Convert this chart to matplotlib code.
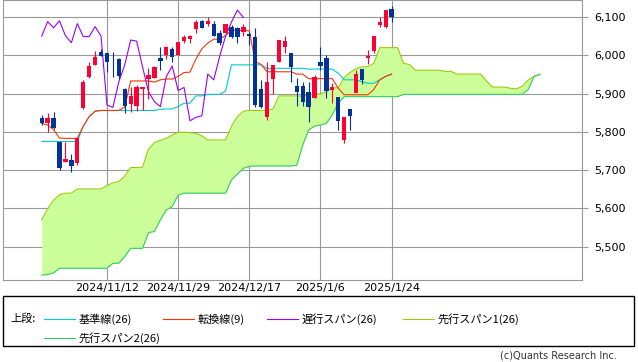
"""Ichimoku chart (一目均衡表) for the last 60 sessions, rendered to out.png."""

import matplotlib

matplotlib.use("Agg")
import matplotlib.pyplot as plt
from matplotlib.lines import Line2D
from matplotlib.patches import Rectangle
import numpy as np

plt.rcParams["font.family"] = ["DejaVu Sans"]
JP_FONT = ["Noto Sans CJK JP", "DejaVu Sans"]

# daily OHLC, oldest first (60 sessions, last one is 2025/1/24)
opens = [5835, 5822, 5835, 5774, 5722, 5727, 5720, 5863, 5944, 5975,
         6009, 6005, 5986, 5990, 5912, 5873, 5867, 5913, 5938, 5942,
         5993, 6000, 6016, 6002, 6038, 6042, 6068, 6090, 6082, 6081,
         6059, 6057, 6075, 6070, 6062, 6056, 6049, 5911, 5838, 5938,
         5982, 6022, 6007, 5920, 5920, 5905, 5888, 5983, 5992, 5909,
         5890, 5779, 5860, 5902, 5964, 5993, 6012, 6080, 6075, 6120]
highs = [5845, 5849, 5851, 5776, 5774, 5742, 5786, 5935, 5983, 6012,
         6016, 6007, 6009, 5993, 5915, 5916, 5922, 5918, 5966, 5973,
         6022, 6025, 6022, 6036, 6054, 6054, 6092, 6092, 6101, 6090,
         6066, 6083, 6078, 6075, 6083, 6060, 6070, 5936, 5982, 5975,
         6040, 6051, 6007, 5942, 5931, 5931, 5948, 6022, 6001, 5928,
         5890, 5840, 5860, 5962, 5964, 6014, 6050, 6099, 6118, 6129]
lows = [5818, 5800, 5808, 5700, 5722, 5696, 5714, 5861, 5942, 5974,
        5997, 5957, 5944, 5939, 5850, 5853, 5855, 5857, 5887, 5942,
        5962, 5990, 5983, 6002, 6031, 6031, 6057, 6070, 6077, 6050,
        6028, 6057, 6046, 6033, 6050, 6027, 5866, 5862, 5831, 5899,
        5982, 6005, 5931, 5868, 5868, 5827, 5888, 5962, 5889, 5875,
        5805, 5772, 5805, 5925, 5925, 5977, 6005, 6075, 6072, 6088]
closes = [5822, 5835, 5811, 5705, 5729, 5712, 5783, 5931, 5972, 5996,
          5998, 5983, 5984, 5946, 5867, 5894, 5916, 5918, 5949, 5970,
          5985, 6022, 5996, 6036, 6047, 6050, 6088, 6072, 6090, 6051,
          6033, 6083, 6049, 6049, 6075, 6050, 5870, 5864, 5931, 5975,
          6040, 6037, 5970, 5905, 5879, 5866, 5944, 5972, 5908, 5916,
          5829, 5838, 5842, 5951, 5936, 5997, 6050, 6087, 6118, 6099]

# 転換線 (9) and 基準線 (26), one value per session
tenkan = [5822, 5818, 5806, 5784, 5783, 5783, 5783, 5815, 5840, 5854,
          5856, 5856, 5856, 5856, 5865, 5933, 5933, 5933, 5933, 5930,
          5936, 5938, 5938, 5945, 5955, 5956, 5990, 6017, 6032, 6042,
          6042, 6052, 6065, 6065, 6065, 6064, 5984, 5976, 5957, 5957,
          5957, 5957, 5957, 5951, 5951, 5939, 5939, 5939, 5939, 5939,
          5914, 5897, 5897, 5897, 5897, 5897, 5911, 5936, 5945, 5951]
kijun = [5775, 5775, 5775, 5775, 5775, 5775, 5775, 5815, 5840, 5854,
         5856, 5856, 5856, 5856, 5856, 5856, 5856, 5856, 5856, 5856,
         5859, 5860, 5860, 5866, 5875, 5875, 5894, 5894, 5898, 5898,
         5898, 5907, 5975, 5975, 5975, 5975, 5975, 5975, 5966, 5966,
         5966, 5966, 5966, 5966, 5966, 5964, 5964, 5964, 5964, 5964,
         5953, 5936, 5936, 5936, 5931, 5927, 5927, 5936, 5945, 5951]

# 先行スパン1 / 2, plotted from the first session to 25 sessions past the last
span1 = [5570, 5600, 5622, 5636, 5640, 5640, 5651, 5651, 5651, 5651,
         5651, 5660, 5667, 5670, 5685, 5707, 5707, 5708, 5755, 5772,
         5778, 5783, 5792, 5799, 5799, 5798, 5796, 5790, 5779, 5779,
         5779, 5779, 5815, 5840, 5854, 5856, 5856, 5856, 5856, 5860,
         5894, 5894, 5894, 5894, 5893, 5897, 5899, 5899, 5905, 5915,
         5915, 5942, 5955, 5965, 5970, 5970, 5979, 6020, 6020, 6020,
         6020, 5979, 5976, 5961, 5961, 5961, 5961, 5961, 5958, 5958,
         5951, 5951, 5951, 5951, 5951, 5933, 5917, 5917, 5917, 5914,
         5912, 5919, 5935, 5945, 5950]
span2 = [5426, 5428, 5432, 5444, 5444, 5444, 5444, 5444, 5444, 5444,
         5444, 5444, 5457, 5457, 5475, 5496, 5496, 5496, 5537, 5540,
         5570, 5596, 5605, 5635, 5640, 5640, 5640, 5640, 5640, 5640,
         5640, 5640, 5675, 5690, 5705, 5710, 5711, 5711, 5711, 5711,
         5711, 5711, 5711, 5713, 5765, 5805, 5815, 5818, 5822, 5845,
         5875, 5892, 5892, 5892, 5892, 5892, 5892, 5892, 5892, 5892,
         5892, 5898, 5898, 5898, 5898, 5898, 5898, 5898, 5898, 5898,
         5898, 5898, 5898, 5898, 5898, 5898, 5898, 5898, 5898, 5898,
         5898, 5898, 5910, 5944, 5951]

CHIKOU_LAG = 25
date_labels = ["2024/11/12", "2024/11/29", "2024/12/17", "2025/1/6", "2025/1/24"]
date_sessions = [11, 23, 35, 47, 59]
price_ticks = [5500, 5600, 5700, 5800, 5900, 6000, 6100]

W, H = 638, 362
LW = 0.8  # roughly one device pixel
COLORS = {
    "kijun": "#00cccc",
    "tenkan": "#ff3300",
    "chikou": "#9900ff",
    "span1": "#99cc00",
    "span2": "#33cc66",
    "cloud": "#ccff99",
    "up": "#ff0033",
    "down": "#003399",
    "grid": "#999999",
}


def fx(px):
    return px / W


def fy(py):
    return 1 - py / H


def draw_candles(ax):
    o, h, l, c = (np.asarray(v, dtype=float) for v in (opens, highs, lows, closes))
    x = np.arange(len(c))
    colors = np.where(c >= o, COLORS["up"], COLORS["down"])
    ax.vlines(x, l, h, colors=colors, linewidth=LW, zorder=5)
    ax.bar(x, np.abs(c - o), bottom=np.minimum(o, c), width=0.73,
           color=colors, linewidth=0, zorder=6)


def draw_ichimoku(ax):
    ahead = np.arange(len(span1))
    ax.fill_between(ahead, span1, span2, color=COLORS["cloud"], linewidth=0, zorder=1)
    ax.plot(ahead, span1, color=COLORS["span1"], lw=LW, zorder=2)
    ax.plot(ahead, span2, color=COLORS["span2"], lw=LW, zorder=2)
    sessions = np.arange(len(closes))
    ax.plot(sessions, kijun, color=COLORS["kijun"], lw=LW, zorder=3)
    ax.plot(sessions, tenkan, color=COLORS["tenkan"], lw=LW, zorder=3)
    lagged = closes[CHIKOU_LAG:]
    ax.plot(np.arange(len(lagged)), lagged, color=COLORS["chikou"], lw=LW, zorder=4)


def draw_legend(fig):
    fig.add_artist(Rectangle((fx(3), fy(346)), fx(631), 50 / H, transform=fig.transFigure,
                             fill=False, edgecolor="black", linewidth=1.0))
    fig.text(fx(10), fy(319), "上段:", family=JP_FONT, fontsize=8, va="center")
    items = [
        ("基準線(26)", COLORS["kijun"], 44, 319),
        ("転換線(9)", COLORS["tenkan"], 163, 319),
        ("遅行スパン(26)", COLORS["chikou"], 267, 319),
        ("先行スパン1(26)", COLORS["span1"], 403, 319),
        ("先行スパン2(26)", COLORS["span2"], 44, 338),
    ]
    for label, color, x0, y in items:
        fig.add_artist(Line2D([fx(x0), fx(x0 + 31)], [fy(y), fy(y)], color=color,
                              linewidth=LW, transform=fig.transFigure))
        fig.text(fx(x0 + 35), fy(y), label, family=JP_FONT, fontsize=8, va="center")
    fig.text(fx(617), fy(356), "(c)Quants Research Inc.", fontsize=7,
             ha="right", va="center", color="#333333")


def main():
    fig = plt.figure(figsize=(W / 100, H / 100), dpi=100)
    ax = fig.add_axes([fx(3), fy(280), fx(579), 280 / H])

    draw_ichimoku(ax)
    draw_candles(ax)

    ax.set_xlim(-6.53, 91.1)
    ax.set_ylim(5413.3, 6144.4)
    ax.set_xticks(date_sessions)
    ax.set_xticklabels(date_labels)
    ax.set_yticks(price_ticks)
    ax.set_yticklabels([f"{v:,}" for v in price_ticks])
    ax.yaxis.tick_right()
    ax.tick_params(axis="y", length=4, width=LW, color=COLORS["grid"], pad=5, labelsize=8)
    ax.tick_params(axis="x", length=0, pad=2, labelsize=8)
    ax.grid(color=COLORS["grid"], linewidth=LW)
    ax.set_axisbelow(True)
    for spine in ax.spines.values():
        spine.set_color(COLORS["grid"])
        spine.set_linewidth(LW)

    draw_legend(fig)
    fig.savefig("out.png", dpi=100)
    plt.close(fig)


if __name__ == "__main__":
    main()
